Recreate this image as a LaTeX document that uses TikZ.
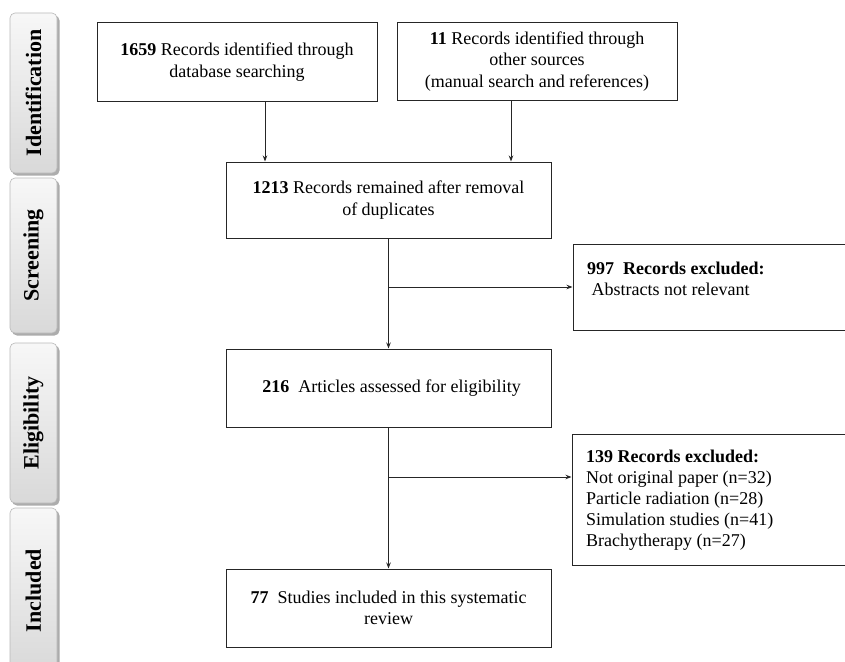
\documentclass[tikz,border=0pt]{standalone}
\usepackage{fontspec}
\setmainfont{Liberation Serif}
\usetikzlibrary{arrows.meta}
\tikzset{
  box/.style={draw=black!85, line width=1pt, rectangle, inner sep=0pt, align=center,
    font=\fontsize{18}{21.5}\selectfont},
  txt/.style={inner sep=0pt, align=left, anchor=north west, font=\fontsize{18}{21}\selectfont},
  stage/.style={rectangle, rounded corners=5pt, draw=gray!55, line width=0.6pt,
    top color=gray!6, bottom color=gray!30, rotate=90, inner sep=0pt,
    minimum height=47pt, font=\fontsize{22}{26}\selectfont\bfseries},
  shadowbox/.style={fill=gray!65, rounded corners=5pt},
  arr/.style={draw=black!85, line width=1pt, -{Stealth[length=6pt,width=4.5pt]}},
  ln/.style={draw=black!85, line width=1pt}
}
\begin{document}
\begin{tikzpicture}[x=1pt,y=-1pt]
\useasboundingbox (0,0) rectangle (845,661);
\fill[white] (0,0) rectangle (845,661);
% stage labels
\fill[shadowbox] (12,15.5) rectangle (59.5,175.5);
\node[stage, minimum width=160pt] (sid) at (33.5,93) {Identification};
\fill[shadowbox] (12,180.5) rectangle (59.5,335.5);
\node[stage, minimum width=155pt] (ssc) at (33.5,255.5) {Screening};
\fill[shadowbox] (12,345.5) rectangle (59.5,505.5);
\node[stage, minimum width=160pt] (sel) at (33.5,423) {Eligibility};
\fill[shadowbox] (12,510.5) rectangle (59.5,675);
\node[stage, minimum width=165pt] (sin) at (33.5,590.5) {Included};
% boxes
\node[box, minimum width=280pt, minimum height=78pt] (b1) at (237,62)
  {\textbf{1659} Records identified through\\database searching};
\node[box, minimum width=280pt, minimum height=77pt] (b2) at (537,61.5)
  {\textbf{11} Records identified through\\other sources\\(manual search and references)};
\node[box, minimum width=325pt, minimum height=76pt] (b3) at (388.5,200)
  {\textbf{1213} Records remained after removal\\of duplicates};
\node[box, minimum width=302pt, minimum height=86pt] (b4) at (724,287) {};
\node[txt] (t4) at (587,262) {\textbf{997\ \ Records excluded:}\\\ Abstracts not relevant};
\node[box, minimum width=325pt, minimum height=78pt] (b5) at (388.5,388)
  {\hspace*{6pt}\textbf{216}\ \ Articles assessed for eligibility};
\node[box, minimum width=303pt, minimum height=131pt] (b6) at (723.5,499.5) {};
\node[txt] (t6) at (586,450) {\textbf{139 Records excluded:}\\Not original paper (n=32)\\Particle radiation (n=28)\\Simulation studies (n=41)\\Brachytherapy (n=27)};
\node[box, minimum width=325pt, minimum height=78pt] (b7) at (388.5,608)
  {\textbf{77}\ \ Studies included in this systematic\\review};
% connectors
\coordinate (j1) at (b3.south |- b4.west);
\coordinate (j2) at (b5.south |- 0,477);
\draw[arr] ([xshift=28pt]b1.south) -- ([xshift=28pt]b1.south |- b3.north);
\draw[arr] ([xshift=-26pt]b2.south) -- ([xshift=-26pt]b2.south |- b3.north);
\draw[arr] (b3.south) -- (b5.north);
\draw[arr] (j1) -- (b4.west);
\draw[arr] (b5.south) -- (b7.north);
\draw[arr] (j2) -- (j2 -| b6.west);
\end{tikzpicture}
\end{document}
